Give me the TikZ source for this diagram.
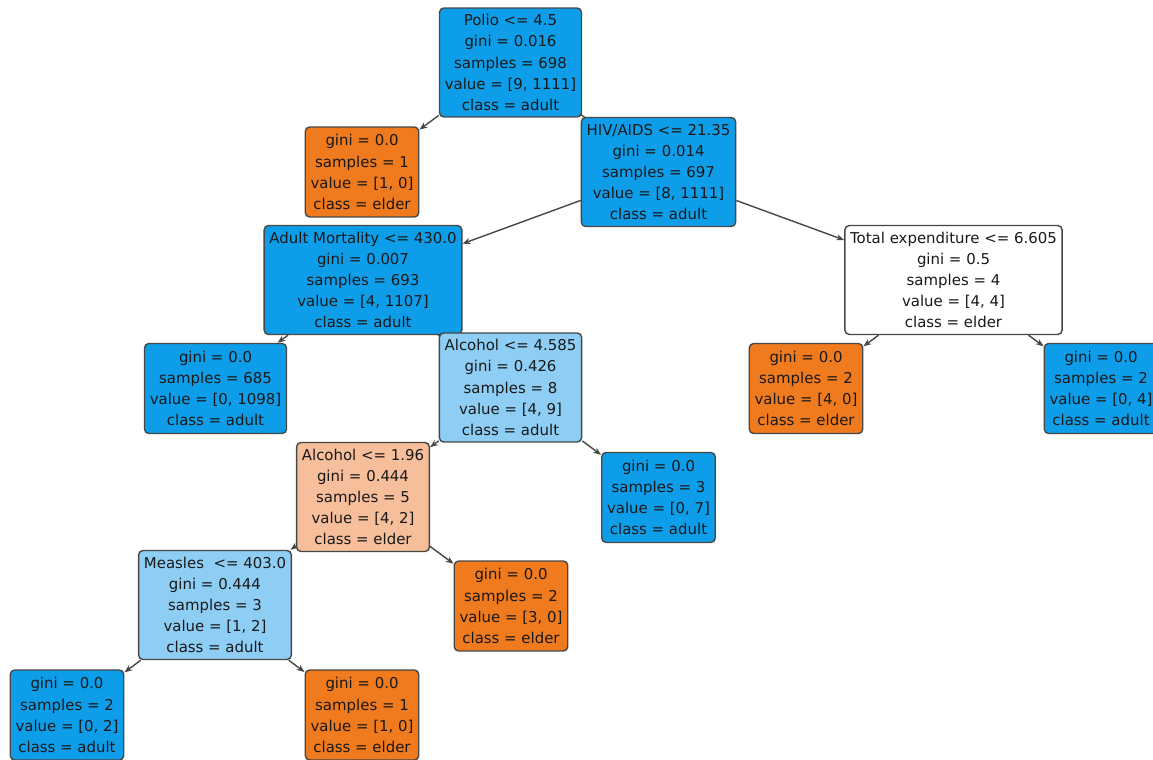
\documentclass[tikz,border=0pt]{standalone}
\usepackage{fontspec}
\setmainfont{DejaVu Sans}
\usetikzlibrary{arrows.meta,backgrounds}
\definecolor{adultfull}{RGB}{14,157,232}
\definecolor{adultpale}{RGB}{142,206,245}
\definecolor{elderfull}{RGB}{240,122,30}
\definecolor{elderpale}{RGB}{246,190,155}
\begin{document}
\begin{tikzpicture}[x=0.02cm,y=-0.02cm,
  box/.style={draw=black!72, line width=0.8pt, rounded corners=2.5pt, align=center,
    inner xsep=3pt, font=\fontsize{8.5}{12}\selectfont, text=black!90},
  split/.style={box, minimum height=2.18cm},
  leaf/.style={box, minimum height=1.8cm},
  adult/.style={fill=adultfull},
  adultlight/.style={fill=adultpale},
  elder/.style={fill=elderfull},
  elderlight/.style={fill=elderpale},
  tie/.style={fill=white},
  link/.style={draw=black!72, line width=0.8pt, -{Stealth[length=4.5pt,width=3.5pt]}}]
\useasboundingbox (0,0) rectangle (1153,760);
% level 0
\node[split,adult] (polio) at (510.5,62.5) {Polio <= 4.5\\gini = 0.016\\samples = 698\\value = [9, 1111]\\class = adult};
% level 1
\node[leaf,elder] (leafpolio) at (362,172) {gini = 0.0\\samples = 1\\value = [1, 0]\\class = elder};
\node[split,adult] (hiv) at (658.5,172) {HIV/AIDS <= 21.35\\gini = 0.014\\samples = 697\\value = [8, 1111]\\class = adult};
% level 2
\node[split,adult] (mortality) at (363,280) {Adult Mortality <= 430.0\\gini = 0.007\\samples = 693\\value = [4, 1107]\\class = adult};
\node[split,tie] (expend) at (953.5,280) {Total expenditure <= 6.605\\gini = 0.5\\samples = 4\\value = [4, 4]\\class = elder};
% level 3
\node[leaf,adult] (leafmort) at (215.5,388.5) {gini = 0.0\\samples = 685\\value = [0, 1098]\\class = adult};
\node[split,adultlight] (alchigh) at (510.5,387.5) {Alcohol <= 4.585\\gini = 0.426\\samples = 8\\value = [4, 9]\\class = adult};
\node[leaf,elder] (leafexpl) at (806,388.5) {gini = 0.0\\samples = 2\\value = [4, 0]\\class = elder};
\node[leaf,adult] (leafexpr) at (1101,388.5) {gini = 0.0\\samples = 2\\value = [0, 4]\\class = adult};
% level 4
\node[split,elderlight] (alclow) at (363,497) {Alcohol <= 1.96\\gini = 0.444\\samples = 5\\value = [4, 2]\\class = elder};
\node[leaf,adult] (leafalc) at (658.5,497.5) {gini = 0.0\\samples = 3\\value = [0, 7]\\class = adult};
% level 5
\node[split,adultlight] (measles) at (215,605) {Measles\ \ <= 403.0\\gini = 0.444\\samples = 3\\value = [1, 2]\\class = adult};
\node[leaf,elder] (leafalclow) at (511,606) {gini = 0.0\\samples = 2\\value = [3, 0]\\class = elder};
% level 6
\node[leaf,adult] (leafmeasl) at (67,715) {gini = 0.0\\samples = 2\\value = [0, 2]\\class = adult};
\node[leaf,elder] (leafmeasr) at (362,715) {gini = 0.0\\samples = 1\\value = [1, 0]\\class = elder};
% connectors
\begin{scope}[on background layer]
\draw[link] (polio) -- (leafpolio);
\draw[link] (polio.center) -- (hiv.center);
\draw[link] (hiv) -- (mortality);
\draw[link] (hiv) -- (expend);
\draw[link] (mortality) -- (leafmort);
\draw[link] (mortality.center) -- (alchigh.center);
\draw[link] (expend) -- (leafexpl);
\draw[link] (expend) -- (leafexpr);
\draw[link] (alchigh) -- (alclow);
\draw[link] (alchigh) -- (leafalc);
\draw[link] (alclow) -- (measles);
\draw[link] (alclow) -- (leafalclow);
\draw[link] (measles) -- (leafmeasl);
\draw[link] (measles) -- (leafmeasr);
\end{scope}
\end{tikzpicture}
\end{document}
